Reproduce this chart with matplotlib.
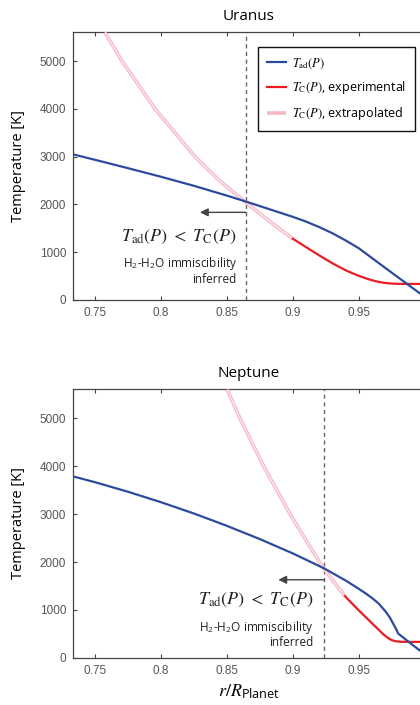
import matplotlib
matplotlib.use('Agg')
import matplotlib.pyplot as plt

plt.rcParams['font.family'] = ['Open Sans', 'DejaVu Sans']
# serif italic maths like the original, sans for \mathsf parts
plt.rcParams['mathtext.fontset'] = 'custom'
plt.rcParams['mathtext.rm'] = 'STIXGeneral'
plt.rcParams['mathtext.it'] = 'STIXGeneral:italic'
plt.rcParams['mathtext.bf'] = 'STIXGeneral:bold'
plt.rcParams['mathtext.sf'] = 'Open Sans'
plt.rcParams['mathtext.fallback'] = 'stix'

# Uranus: adiabat and critical (demixing) temperature vs radius
uranus_r_ad = [0.7333, 0.75, 0.775, 0.80, 0.825, 0.85, 0.865, 0.88, 0.89, 0.90, 0.91,
               0.92, 0.93, 0.94, 0.95, 0.96, 0.97, 0.98, 0.99, 1.0]
uranus_t_ad = [3050, 2935, 2760, 2580, 2390, 2185, 2055, 1920, 1830, 1740, 1640,
               1525, 1395, 1245, 1080, 875, 670, 467, 263, 60]
uranus_r_exp = [0.90, 0.905, 0.91, 0.915, 0.92, 0.925, 0.93, 0.935, 0.94, 0.945, 0.95,
                0.955, 0.96, 0.965, 0.97, 0.975, 0.98, 0.99, 1.0]
uranus_t_exp = [1280, 1192, 1105, 1018, 932, 848, 767, 692, 622, 560, 505,
                455, 412, 378, 355, 343, 338, 336, 336]
uranus_r_ext = [0.7575, 0.764, 0.7705, 0.783, 0.7955, 0.8106, 0.8258, 0.835, 0.8443,
                0.8541, 0.8642, 0.873, 0.8821, 0.891, 0.90]
uranus_t_ext = [5600, 5300, 5000, 4500, 4000, 3500, 3000, 2750, 2500,
                2275, 2050, 1850, 1650, 1463, 1280]
uranus_r_cross = 0.8644

# Neptune
neptune_r_ad = [0.7333, 0.75, 0.775, 0.80, 0.825, 0.85, 0.875, 0.90, 0.9235, 0.94,
                0.95, 0.955, 0.96, 0.965, 0.97, 0.9735, 0.9785, 0.9797, 0.99, 1.0]
neptune_t_ad = [3790, 3668, 3468, 3250, 3013, 2755, 2478, 2178, 1868, 1612,
                1437, 1345, 1245, 1130, 970, 835, 580, 505, 280, 70]
neptune_r_exp = [0.9394, 0.945, 0.95, 0.955, 0.96, 0.965, 0.9684, 0.972, 0.975, 0.978,
                 0.982, 0.99, 1.0]
neptune_t_exp = [1285, 1125, 985, 850, 715, 583, 490, 410, 365, 342,
                 333, 330, 330]
neptune_r_ext = [0.8502, 0.855, 0.8599, 0.8688, 0.8778, 0.8878, 0.8978, 0.9089, 0.92,
                 0.9235, 0.9313, 0.9394]
neptune_t_ext = [5600, 5300, 5000, 4500, 4000, 3500, 3000, 2500, 2000,
                 1860, 1570, 1285]
neptune_r_cross = 0.9235

x_ticks = [0.75, 0.8, 0.85, 0.9, 0.95]
x_tick_labels = ['0.75', '0.8', '0.85', '0.9', '0.95']
y_ticks = [0, 1000, 2000, 3000, 4000, 5000]

BLUE = '#2c4b9e'
RED = '#ec1c24'
PINK = '#f5b9c5'
PINK_IN = '#fde9ed'
GREY = '#444444'


def draw_panel(ax, title, r_ad, t_ad, r_exp, t_exp, r_ext, t_ext, r_cross,
               arrow_T, arrow_end, text_r, text_T, legend=False):
    # curves
    ax.plot(r_ext, t_ext, color=PINK, lw=2.6, solid_capstyle='butt',
            label=r'$T_{\mathrm{C}}(P)$, extrapolated', zorder=3)
    ax.plot(r_ext, t_ext, color=PINK_IN, lw=0.9, solid_capstyle='butt', zorder=3)
    ax.plot(r_exp, t_exp, color=RED, lw=1.6, label=r'$T_{\mathrm{C}}(P)$, experimental', zorder=4)
    ax.plot(r_ad, t_ad, color=BLUE, lw=1.6, label=r'$T_{\mathrm{ad}}(P)$', zorder=5)

    # boundary where immiscibility starts
    ax.axvline(r_cross, color='#666666', lw=1, ls=(0, (3, 2.5)), zorder=2)
    ax.annotate('', xy=(arrow_end, arrow_T), xytext=(r_cross, arrow_T),
                arrowprops=dict(arrowstyle='-|>', color=GREY, lw=1, mutation_scale=12,
                                shrinkA=0, shrinkB=0))
    ax.text(text_r, text_T[0], r'$T_{\mathrm{ad}}(P)\ <\ T_{\mathrm{C}}(P)$',
            ha='right', va='center', fontsize=13, color='#222222')
    ax.text(text_r, text_T[1], r'H$_\mathsf{2}$-H$_\mathsf{2}$O immiscibility',
            ha='right', va='center', fontsize=8.5, color='#222222')
    ax.text(text_r, text_T[2], 'inferred', ha='right', va='center', fontsize=8.5,
            color='#222222')

    ax.set_xlim(0.7333, 1.0)
    ax.set_ylim(0, 5610)
    ax.set_xticks(x_ticks)
    ax.set_xticklabels(x_tick_labels)
    ax.set_yticks(y_ticks)
    ax.tick_params(direction='in', length=3, width=0.8, color=GREY, top=True,
                   labelsize=8.5, labelcolor='#555555', pad=5)
    for lab in ax.get_xticklabels() + ax.get_yticklabels():
        lab.set_family('Liberation Sans')
    for sp in ax.spines.values():
        sp.set_color(GREY)
        sp.set_linewidth(0.9)
    ax.set_title(title, fontsize=11, pad=9)
    ax.set_ylabel('Temperature [K]', fontsize=10.5, labelpad=10)

    if legend:
        handles, labels = ax.get_legend_handles_labels()
        order = [2, 1, 0]
        leg = ax.legend([handles[i] for i in order], [labels[i] for i in order],
                        loc='upper right', bbox_to_anchor=(0.9716, 0.943),
                        borderaxespad=0, fancybox=False, framealpha=1,
                        edgecolor='#111111', fontsize=9, handlelength=1.5,
                        labelspacing=0.7, borderpad=0.7, handletextpad=0.5)
        leg.get_frame().set_linewidth(1.0)


fig = plt.figure(figsize=(4.2, 7.05), dpi=100)
ax1 = fig.add_axes([0.1738, 0.5745, 0.838, 0.380])
ax2 = fig.add_axes([0.1738, 0.0671, 0.838, 0.3807])

draw_panel(ax1, 'Uranus', uranus_r_ad, uranus_t_ad, uranus_r_exp, uranus_t_exp,
           uranus_r_ext, uranus_t_ext, uranus_r_cross, 1835, 0.8295, 0.8573,
           [1324, 768, 433], legend=True)
draw_panel(ax2, 'Neptune', neptune_r_ad, neptune_t_ad, neptune_r_exp, neptune_t_exp,
           neptune_r_ext, neptune_t_ext, neptune_r_cross, 1629, 0.8889, 0.9154,
           [1210, 637, 314])
ax2.set_xlabel(r'$r/R_{\mathsf{Planet}}$', fontsize=13, labelpad=4)

fig.savefig('out.png', dpi=100)
